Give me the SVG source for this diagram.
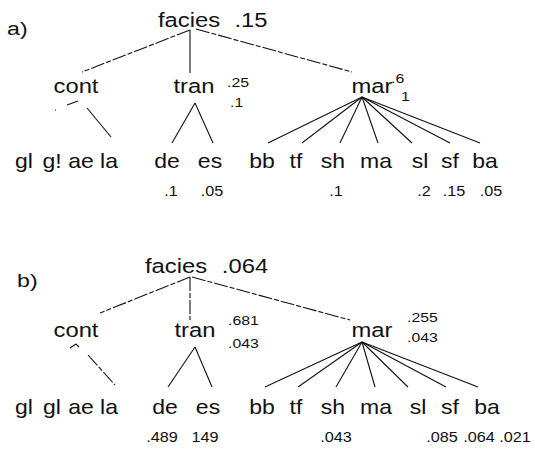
<svg xmlns="http://www.w3.org/2000/svg" width="535" height="450" viewBox="0 0 535 450">
<style>
text{font-family:"Liberation Sans",Arial,sans-serif;fill:#111}
.n{font-size:19.5px;text-anchor:middle}
.lf{font-size:20px;text-anchor:middle}
.v{font-size:14.5px;text-anchor:middle}
.s{font-size:13px;text-anchor:start}
.lab{font-size:19px;text-anchor:start}
.e line{stroke:#111;stroke-width:1.1}
.e .brk{stroke-dasharray:14 2 5 2}
</style>
<rect width="535" height="450" fill="#fff"/>
<g id="tree-a">
<text class="lab" transform="translate(7 35) scale(1.22 1)">a)</text>
<g id="a-facies"><text class="n" transform="translate(189 27) scale(1.22 1)">facies</text><text class="n" transform="translate(251 27) scale(1.22 1)">.15</text></g>
<g id="a-cont"><text class="n" transform="translate(76 93) scale(1.22 1)">cont</text></g>
<g id="a-tran"><text class="n" transform="translate(194 93) scale(1.22 1)">tran</text><text class="s" transform="translate(227 87) scale(1.22 1)">.25</text><text class="s" transform="translate(230 107) scale(1.22 1)">.1</text></g>
<g id="a-mar"><text class="n" transform="translate(372 93) scale(1.22 1)">mar</text><text class="s" transform="translate(391 83) scale(1.22 1)">.6</text><text class="s" transform="translate(401 101) scale(1.22 1)">1</text></g>
<g id="a-gl1"><text class="lf" transform="translate(24 168) scale(1.15 1)">gl</text></g>
<g id="a-gl2"><text class="lf" transform="translate(52 168) scale(1.15 1)">g!</text></g>
<g id="a-ae"><text class="lf" transform="translate(81 168) scale(1.15 1)">ae</text></g>
<g id="a-la"><text class="lf" transform="translate(109 168) scale(1.15 1)">la</text></g>
<g id="a-de"><text class="lf" transform="translate(167 168) scale(1.15 1)">de</text><text class="v" transform="translate(171 196) scale(1.12 1)">.1</text></g>
<g id="a-es"><text class="lf" transform="translate(210 168) scale(1.15 1)">es</text><text class="v" transform="translate(212 196) scale(1.12 1)">.05</text></g>
<g id="a-bb"><text class="lf" transform="translate(262 168) scale(1.15 1)">bb</text></g>
<g id="a-tf"><text class="lf" transform="translate(296 168) scale(1.15 1)">tf</text></g>
<g id="a-sh"><text class="lf" transform="translate(333 168) scale(1.15 1)">sh</text><text class="v" transform="translate(336 196) scale(1.12 1)">.1</text></g>
<g id="a-ma"><text class="lf" transform="translate(376 168) scale(1.15 1)">ma</text></g>
<g id="a-sl"><text class="lf" transform="translate(420 168) scale(1.15 1)">sl</text><text class="v" transform="translate(424 196) scale(1.12 1)">.2</text></g>
<g id="a-sf"><text class="lf" transform="translate(450 168) scale(1.15 1)">sf</text><text class="v" transform="translate(454 196) scale(1.12 1)">.15</text></g>
<g id="a-ba"><text class="lf" transform="translate(485 168) scale(1.15 1)">ba</text><text class="v" transform="translate(491 196) scale(1.12 1)">.05</text></g>
<g id="a-edges" class="e">
<line class="brk" x1="190" y1="30" x2="82" y2="72"/>
<line x1="190" y1="30" x2="190" y2="73"/>
<line class="brk" x1="196" y1="29" x2="352" y2="72"/>
<line x1="67" y1="105" x2="78" y2="101"/>
<line x1="55" y1="110" x2="56" y2="110"/>
<line x1="87" y1="108" x2="111" y2="137"/>
<line x1="195" y1="103" x2="172" y2="143"/>
<line x1="195" y1="103" x2="213" y2="143"/>
<line x1="362" y1="97" x2="268" y2="143"/>
<line x1="362" y1="97" x2="302" y2="143"/>
<line x1="362" y1="97" x2="340" y2="143"/>
<line x1="362" y1="97" x2="378" y2="143"/>
<line x1="362" y1="97" x2="412" y2="143"/>
<line x1="362" y1="97" x2="450" y2="143"/>
<line x1="362" y1="97" x2="480" y2="143"/>
</g>
</g>
<g id="tree-b">
<text class="lab" transform="translate(17 287) scale(1.22 1)">b)</text>
<g id="b-facies"><text class="n" transform="translate(176 273) scale(1.22 1)">facies</text><text class="n" transform="translate(245 273) scale(1.22 1)">.064</text></g>
<g id="b-cont"><text class="n" transform="translate(76 337) scale(1.22 1)">cont</text></g>
<g id="b-tran"><text class="n" transform="translate(195 337) scale(1.22 1)">tran</text><text class="s" transform="translate(228 325) scale(1.22 1)">.681</text><text class="s" transform="translate(228 348) scale(1.22 1)">.043</text></g>
<g id="b-mar"><text class="n" transform="translate(372 337) scale(1.22 1)">mar</text><text class="s" transform="translate(407 322) scale(1.22 1)">.255</text><text class="s" transform="translate(407 342) scale(1.22 1)">.043</text></g>
<g id="b-gl1"><text class="lf" transform="translate(24 414) scale(1.15 1)">gl</text></g>
<g id="b-gl2"><text class="lf" transform="translate(52 414) scale(1.15 1)">gl</text></g>
<g id="b-ae"><text class="lf" transform="translate(81 414) scale(1.15 1)">ae</text></g>
<g id="b-la"><text class="lf" transform="translate(109 414) scale(1.15 1)">la</text></g>
<g id="b-de"><text class="lf" transform="translate(165 414) scale(1.15 1)">de</text><text class="v" transform="translate(162 442) scale(1.12 1)">.489</text></g>
<g id="b-es"><text class="lf" transform="translate(208 414) scale(1.15 1)">es</text><text class="v" transform="translate(205 442) scale(1.12 1)">149</text></g>
<g id="b-bb"><text class="lf" transform="translate(262 414) scale(1.15 1)">bb</text></g>
<g id="b-tf"><text class="lf" transform="translate(296 414) scale(1.15 1)">tf</text></g>
<g id="b-sh"><text class="lf" transform="translate(333 414) scale(1.15 1)">sh</text><text class="v" transform="translate(336 442) scale(1.12 1)">.043</text></g>
<g id="b-ma"><text class="lf" transform="translate(376 414) scale(1.15 1)">ma</text></g>
<g id="b-sl"><text class="lf" transform="translate(418 414) scale(1.15 1)">sl</text><text class="v" transform="translate(442 442) scale(1.12 1)">.085</text></g>
<g id="b-sf"><text class="lf" transform="translate(450 414) scale(1.15 1)">sf</text><text class="v" transform="translate(479 442) scale(1.12 1)">.064</text></g>
<g id="b-ba"><text class="lf" transform="translate(487 414) scale(1.15 1)">ba</text><text class="v" transform="translate(515 442) scale(1.12 1)">.021</text></g>
<g id="b-edges" class="e">
<line class="brk" x1="190" y1="277" x2="100" y2="313"/>
<line class="brk" x1="190" y1="277" x2="190" y2="320"/>
<line class="brk" x1="192" y1="277" x2="350" y2="320"/>
<line x1="70" y1="348" x2="76" y2="344"/>
<line x1="76" y1="344" x2="79" y2="347"/>
<line class="brk" x1="88" y1="355" x2="115" y2="385"/>
<line x1="195" y1="347" x2="168" y2="387"/>
<line x1="195" y1="347" x2="212" y2="387"/>
<line x1="362" y1="342" x2="265" y2="387"/>
<line x1="362" y1="342" x2="298" y2="387"/>
<line x1="362" y1="342" x2="336" y2="387"/>
<line x1="362" y1="342" x2="375" y2="387"/>
<line x1="362" y1="342" x2="408" y2="387"/>
<line x1="362" y1="342" x2="446" y2="387"/>
<line x1="362" y1="342" x2="478" y2="387"/>
</g>
</g>
</svg>
